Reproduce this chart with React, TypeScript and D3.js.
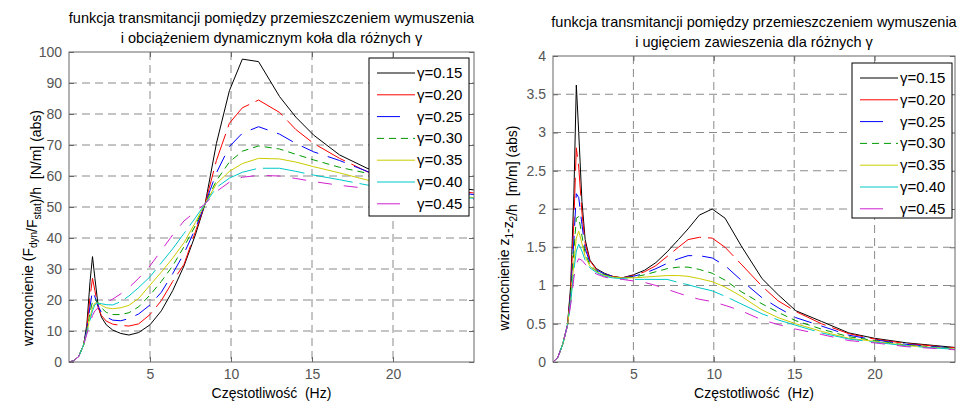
import React, { useRef, useEffect } from 'react';
import * as d3 from 'd3';

// frequency points (Hz), shared by every curve
const freq = [0, 0.3, 0.6, 0.9, 1.1, 1.3, 1.45, 1.6, 1.8, 2.0, 2.3, 2.7, 3.2, 3.7, 4.3, 5, 5.7, 6.4, 7.1, 7.8, 8.4, 9.1, 9.9, 10.7, 11.7, 13, 14, 15.1, 16.7, 18.4, 20, 22, 25];

const gammaLabels = ['γ=0.15', 'γ=0.20', 'γ=0.25', 'γ=0.30', 'γ=0.35', 'γ=0.40', 'γ=0.45'];

// left plot: dynamic wheel load transmittance
const loadG15 = [0, 0.4, 1.8, 5.5, 12, 26, 34, 27, 18, 14.5, 12, 10.3, 9.2, 8.7, 9.5, 12, 16.5, 23, 31, 41, 51, 70.5, 87.5, 97.7, 96.9, 85.6, 79, 73.2, 66.8, 62.5, 59.5, 57.5, 55.5];
const loadG20 = [0, 0.4, 1.8, 5.5, 11, 21, 27, 23, 17.5, 15, 13.2, 12.2, 11.8, 11.6, 12.3, 15.3, 19.8, 26, 31.5, 42, 51, 65, 77, 82, 84.5, 80.5, 75, 70.5, 65.7, 61.4, 58.5, 56.5, 54.5];
const loadG25 = [0, 0.4, 1.8, 5.5, 10.5, 18, 23, 21, 18, 16, 14.5, 13.5, 13.3, 14, 15.5, 18.4, 22.5, 28.5, 35, 43, 51, 61, 69.5, 73.8, 75.9, 73.5, 70.5, 67.8, 65, 61.5, 58, 56, 54];
const loadG30 = [0, 0.4, 1.8, 5.5, 10, 16, 19.5, 20.3, 19, 17.5, 16, 15.3, 15.3, 15.9, 17.8, 21.6, 26, 31, 37.2, 44, 51, 58.5, 64.5, 68, 69.7, 68.7, 67, 65.2, 62.8, 60.9, 57.5, 55.5, 53.5];
const loadG35 = [0, 0.4, 1.8, 5.5, 9.5, 14.5, 17.5, 19, 19, 18.3, 17.5, 17.2, 17.5, 18.3, 20.5, 24.8, 29, 33.5, 38.5, 45, 51, 57.5, 61.5, 64, 65.7, 65.5, 64.5, 63, 61, 58.7, 56.5, 55, 53];
const loadG40 = [0, 0.4, 1.8, 5.5, 9.3, 13.5, 16.5, 18.5, 19, 18.8, 18.5, 18.4, 19.5, 21.3, 24, 27.5, 32, 36.5, 41.5, 46.5, 51, 56.3, 59.3, 61.2, 62.5, 62.5, 61.5, 60.3, 58.8, 57.1, 55.5, 54.2, 52.8];
const loadG45 = [0, 0.4, 1.8, 5.5, 9, 12.5, 15, 16.5, 17.5, 18.3, 19.2, 20.3, 22, 24, 27, 31, 36, 41, 45.5, 48.5, 51, 55, 58, 59.6, 60.2, 60, 59.2, 58.2, 57, 56, 54.8, 53.8, 52.5];

// right plot: suspension deflection transmittance
const deflG15 = [0, 0.06, 0.23, 0.48, 1.0, 2.2, 3.62, 3.0, 2.1, 1.6, 1.33, 1.22, 1.16, 1.12, 1.1, 1.14, 1.2, 1.3, 1.44, 1.6, 1.74, 1.92, 2.0, 1.88, 1.52, 1.09, 0.88, 0.67, 0.53, 0.38, 0.31, 0.25, 0.19];
const deflG20 = [0, 0.06, 0.23, 0.48, 0.95, 1.85, 2.8, 2.55, 1.95, 1.55, 1.32, 1.21, 1.15, 1.12, 1.1, 1.13, 1.18, 1.26, 1.38, 1.5, 1.6, 1.63, 1.62, 1.5, 1.28, 0.99, 0.8, 0.66, 0.5, 0.37, 0.3, 0.24, 0.185];
const deflG25 = [0, 0.06, 0.23, 0.48, 0.9, 1.6, 2.2, 2.15, 1.8, 1.48, 1.3, 1.2, 1.15, 1.12, 1.1, 1.12, 1.16, 1.22, 1.29, 1.35, 1.39, 1.39, 1.36, 1.26, 1.07, 0.84, 0.71, 0.58, 0.47, 0.35, 0.29, 0.23, 0.18];
const deflG30 = [0, 0.06, 0.23, 0.48, 0.85, 1.45, 1.88, 1.9, 1.65, 1.42, 1.27, 1.19, 1.14, 1.11, 1.1, 1.11, 1.14, 1.18, 1.22, 1.24, 1.24, 1.21, 1.16, 1.07, 0.92, 0.76, 0.65, 0.54, 0.43, 0.33, 0.28, 0.22, 0.175];
const deflG35 = [0, 0.06, 0.23, 0.48, 0.8, 1.3, 1.62, 1.71, 1.55, 1.38, 1.25, 1.18, 1.13, 1.11, 1.1, 1.1, 1.11, 1.12, 1.13, 1.13, 1.12, 1.09, 1.05, 0.98, 0.86, 0.68, 0.58, 0.5, 0.4, 0.31, 0.27, 0.215, 0.17];
const deflG40 = [0, 0.06, 0.23, 0.48, 0.78, 1.2, 1.45, 1.54, 1.45, 1.33, 1.23, 1.17, 1.12, 1.1, 1.09, 1.08, 1.08, 1.08, 1.08, 1.04, 1.01, 0.97, 0.93, 0.86, 0.76, 0.63, 0.55, 0.48, 0.38, 0.3, 0.26, 0.21, 0.165];
const deflG45 = [0, 0.06, 0.23, 0.48, 0.75, 1.1, 1.28, 1.35, 1.33, 1.28, 1.2, 1.15, 1.11, 1.09, 1.08, 1.06, 1.04, 1.0, 0.95, 0.9, 0.86, 0.82, 0.79, 0.74, 0.67, 0.55, 0.49, 0.43, 0.36, 0.28, 0.25, 0.2, 0.16];

const xTicks = [5, 10, 15, 20];
const loadTicks = [0, 10, 20, 30, 40, 50, 60, 70, 80, 90, 100];
const deflTicks = [0, 0.5, 1, 1.5, 2, 2.5, 3, 3.5, 4];

// line look for each gamma
const colors = ['#000000', '#ff0000', '#0000ff', '#009a00', '#cccc00', '#00c8c8', '#d020d0'];
const curveDash = [null, '32,7', '18,10', '7,5', null, '42,7', '14,12'];
const legendDash = [null, null, '23,100', '7,5', null, null, '23,100'];

const FONT = '"Liberation Sans", Arial, Helvetica, sans-serif';

function drawPanel(svg, cfg) {
    const { id, left, right, top, bottom, yMax, yTicks, series, title, ylabel, yLabelX, yLabelY, titleY, legend } = cfg;
    const x = d3.scaleLinear().domain([0, 25]).range([left, right]);
    const y = d3.scaleLinear().domain([0, yMax]).range([bottom, top]);
    const w = right - left;
    const h = bottom - top;

    const g = svg.append('g').style('font-family', FONT);

    // grid
    g.append('g')
        .selectAll('line.gx')
        .data(xTicks)
        .enter().append('line')
        .attr('x1', d => x(d)).attr('x2', d => x(d))
        .attr('y1', top).attr('y2', bottom)
        .attr('stroke', '#8a8a8a').attr('stroke-dasharray', '8,5');
    g.append('g')
        .selectAll('line.gy')
        .data(yTicks.filter(d => d > 0 && d < yMax))
        .enter().append('line')
        .attr('x1', left).attr('x2', right)
        .attr('y1', d => y(d)).attr('y2', d => y(d))
        .attr('stroke', '#8a8a8a').attr('stroke-dasharray', '8,5');

    // curves
    svg.append('defs').append('clipPath').attr('id', id)
        .append('rect').attr('x', left).attr('y', top).attr('width', w).attr('height', h);

    const line = d3.line().x(d => x(d[0])).y(d => y(d[1]));
    const curves = g.append('g').attr('clip-path', `url(#${id})`);
    series.forEach((vals, i) => {
        curves.append('path')
            .attr('d', line(freq.map((f, k) => [f, vals[k]])))
            .attr('fill', 'none')
            .attr('stroke', colors[i])
            .attr('stroke-width', 1)
            .attr('stroke-dasharray', curveDash[i]);
    });

    // axes: ticks inside on all four sides
    const axisStyle = sel => {
        sel.select('.domain').remove();
        sel.selectAll('line').attr('stroke', '#666');
        sel.selectAll('text').style('font-family', FONT).style('font-size', '14px').attr('fill', '#555');
    };
    g.append('g').attr('transform', `translate(0,${bottom})`)
        .call(d3.axisBottom(x).tickValues(xTicks).tickSizeInner(-5).tickSizeOuter(0).tickPadding(7))
        .call(axisStyle);
    g.append('g').attr('transform', `translate(0,${top})`)
        .call(d3.axisTop(x).tickValues(xTicks).tickSizeInner(-5).tickSizeOuter(0).tickFormat(() => ''))
        .call(axisStyle);
    g.append('g').attr('transform', `translate(${left},0)`)
        .call(d3.axisLeft(y).tickValues(yTicks).tickSizeInner(-5).tickSizeOuter(0).tickPadding(7).tickFormat(d3.format('')))
        .call(axisStyle);
    g.append('g').attr('transform', `translate(${right},0)`)
        .call(d3.axisRight(y).tickValues(yTicks).tickSizeInner(-5).tickSizeOuter(0).tickFormat(() => ''))
        .call(axisStyle);

    g.append('rect')
        .attr('x', left).attr('y', top).attr('width', w).attr('height', h)
        .attr('fill', 'none').attr('stroke', '#666');

    // title
    title.forEach((t, i) => {
        g.append('text')
            .attr('x', (left + right) / 2).attr('y', titleY + i * 20)
            .attr('text-anchor', 'middle')
            .attr('fill', '#000')
            .style('font-size', '14.5px')
            .text(t);
    });

    // x label
    g.append('text')
        .attr('x', (left + right) / 2).attr('y', 398)
        .attr('text-anchor', 'middle')
        .attr('fill', '#000')
        .style('font-size', '14px')
        .style('white-space', 'pre')
        .text('Częstotliwość  (Hz)');

    // y label with subscripts
    const yl = g.append('text')
        .attr('transform', `translate(${yLabelX},${yLabelY}) rotate(-90)`)
        .attr('text-anchor', 'middle')
        .attr('fill', '#000')
        .style('font-size', '14px')
        .style('white-space', 'pre');
    ylabel.forEach(part => {
        if (part.sub) {
            yl.append('tspan').attr('dy', 4).style('font-size', '10px').text(part.t);
            yl.append('tspan').attr('dy', -4).text('');
        } else {
            yl.append('tspan').text(part.t);
        }
    });

    // legend
    const lg = g.append('g');
    lg.append('rect')
        .attr('x', legend.x).attr('y', legend.y).attr('width', legend.w).attr('height', legend.h)
        .attr('fill', '#fff').attr('stroke', '#000');
    gammaLabels.forEach((lab, i) => {
        const cy = legend.y + 15 + i * legend.step;
        lg.append('line')
            .attr('x1', legend.x + 8).attr('x2', legend.x + 46)
            .attr('y1', cy).attr('y2', cy)
            .attr('stroke', colors[i]).attr('stroke-dasharray', legendDash[i]);
        lg.append('text')
            .attr('x', legend.x + 48).attr('y', cy + 5)
            .attr('fill', '#000')
            .style('font-size', '15px')
            .text(lab);
    });
}

const App = () => {
    const ref = useRef(null);

    useEffect(() => {
        const svg = d3.select(ref.current);
        svg.selectAll('*').remove();

        drawPanel(svg, {
            id: 'clipL',
            left: 69, right: 474, top: 52, bottom: 362,
            yMax: 100, yTicks: loadTicks,
            series: [loadG15, loadG20, loadG25, loadG30, loadG35, loadG40, loadG45],
            title: ['funkcja transmitancji pomiędzy przemieszczeniem wymuszenia', 'i obciążeniem dynamicznym koła dla różnych γ'],
            titleY: 23,
            ylabel: [{ t: 'wzmocnienie (F' }, { t: 'dyn', sub: true }, { t: '/F' }, { t: 'stat', sub: true }, { t: ')/h  [N/m] (abs)' }],
            yLabelX: 33, yLabelY: 228,
            legend: { x: 369, y: 58, w: 100, h: 158, step: 21.8 },
        });

        drawPanel(svg, {
            id: 'clipR',
            left: 553, right: 955, top: 56, bottom: 362,
            yMax: 4, yTicks: deflTicks,
            series: [deflG15, deflG20, deflG25, deflG30, deflG35, deflG40, deflG45],
            title: ['funkcja transmitancji pomiędzy przemieszczeniem wymuszenia', 'i ugięciem zawieszenia dla różnych γ'],
            titleY: 27,
            ylabel: [{ t: 'wzmocnienie z' }, { t: '1', sub: true }, { t: '-z' }, { t: '2', sub: true }, { t: '/h  [m/m] (abs)' }],
            yLabelX: 509, yLabelY: 228,
            legend: { x: 852, y: 63, w: 100, h: 155, step: 21.8 },
        });
    }, []);

    return (
        <svg ref={ref} width={958} height={405}
            style={{ position: 'absolute', left: 0, top: 0, background: '#fff' }} />
    );
};

export default App;
